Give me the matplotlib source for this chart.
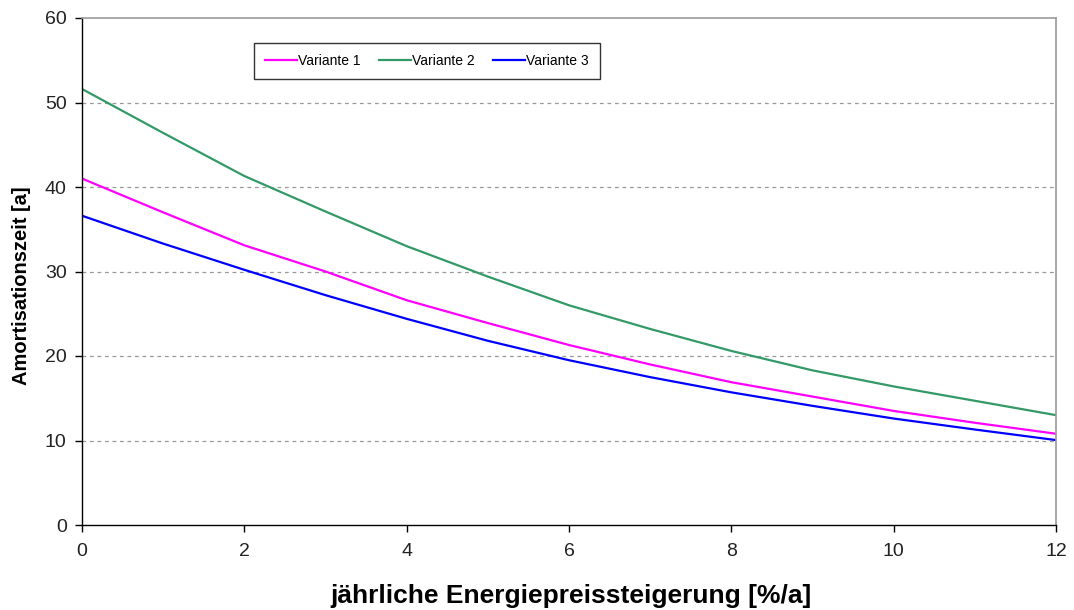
import matplotlib
matplotlib.use("Agg")
import matplotlib.pyplot as plt

# Annual energy price increase [%/a]
steigerung = [0, 1, 2, 3, 4, 5, 6, 7, 8, 9, 10, 11, 12]

# Payback time [a] per variant
variante_1 = [41.0, 37.0, 33.1, 30.0, 26.6, 23.9, 21.3, 19.0, 16.9, 15.2, 13.5, 12.1, 10.8]
variante_2 = [51.6, 46.4, 41.3, 37.1, 33.0, 29.4, 26.0, 23.2, 20.6, 18.3, 16.4, 14.7, 13.0]
variante_3 = [36.6, 33.3, 30.2, 27.2, 24.4, 21.8, 19.5, 17.5, 15.7, 14.1, 12.6, 11.3, 10.05]

serien_namen = ["Variante 1", "Variante 2", "Variante 3"]
farben = ["#FF00FF", "#339966", "#0000FF"]

y_ticks = [0, 10, 20, 30, 40, 50, 60]
x_ticks = [0, 2, 4, 6, 8, 10, 12]

plt.rcParams["font.family"] = ["Liberation Sans", "DejaVu Sans"]

fig = plt.figure(figsize=(10.74, 6.10), dpi=100)
ax = fig.add_axes([82 / 1074, 1 - 525 / 610, (1056 - 82) / 1074, (525 - 18) / 610])

for werte, name, farbe in zip([variante_1, variante_2, variante_3], serien_namen, farben):
    ax.plot(steigerung, werte, color=farbe, linewidth=1.6, label=name,
            solid_joinstyle="round")

ax.set_xlim(0, 12)
ax.set_ylim(0, 60)
ax.set_xticks(x_ticks)
ax.set_yticks(y_ticks)

# dashed horizontal grid
for y in y_ticks[1:-1]:
    ax.axhline(y, color="#999999", linestyle=(0, (3, 3)), linewidth=0.9, zorder=0)

for side in ("top", "right"):
    ax.spines[side].set_color("#9a9a9a")
    ax.spines[side].set_linewidth(1.2)
for side in ("left", "bottom"):
    ax.spines[side].set_color("black")
    ax.spines[side].set_linewidth(1.0)

ax.tick_params(axis="both", direction="out", length=5, width=1, color="black",
               labelsize=14, labelcolor="#222222")
ax.tick_params(axis="y", pad=6)
ax.tick_params(axis="x", pad=8)

ax.set_ylabel("Amortisationszeit [a]", fontsize=14.5, fontweight="bold")
ax.yaxis.set_label_coords(-0.0524, 0.473)
ax.set_xlabel("jährliche Energiepreissteigerung [%/a]", fontsize=19, fontweight="bold")
ax.xaxis.set_label_coords(0.502, -0.116)

leg = fig.legend(loc="upper left", bbox_to_anchor=(254 / 1074, 1 - 43 / 610),
                 bbox_transform=fig.transFigure, ncol=3, fontsize=10,
                 frameon=True, fancybox=False, handlelength=2.3, handletextpad=0.1,
                 columnspacing=1.3, borderpad=0.8, borderaxespad=0)
leg.get_frame().set_edgecolor("black")
leg.get_frame().set_linewidth(1.0)

fig.savefig("out.png", dpi=100, facecolor="white")
